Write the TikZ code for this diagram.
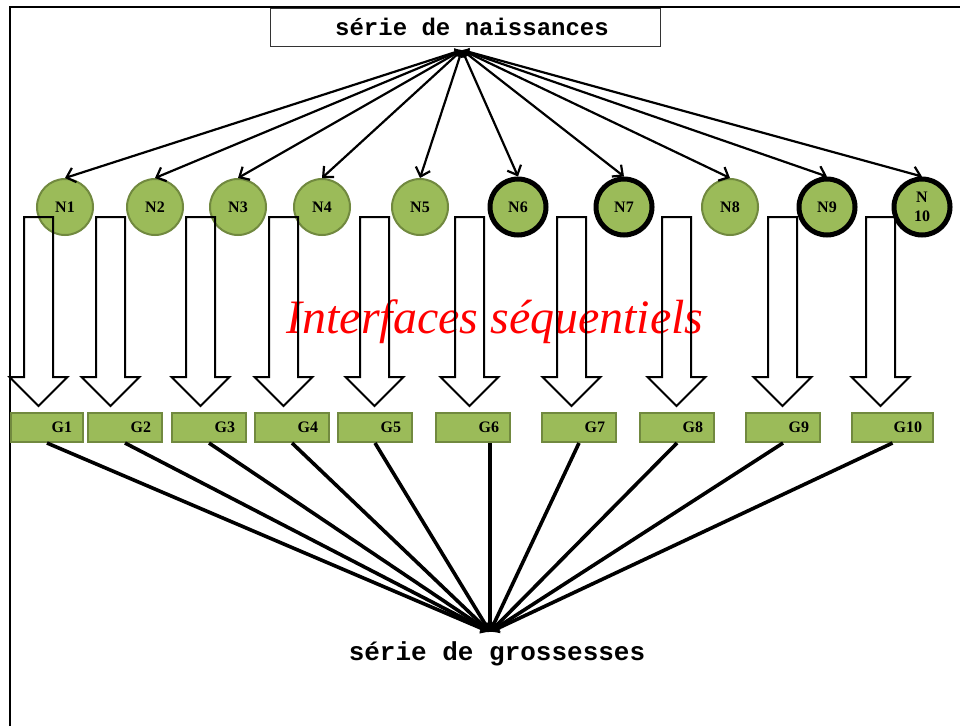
\documentclass[tikz,border=0pt]{standalone}
\usepackage{fontspec}
\setmainfont{Liberation Serif}
\newfontfamily\monob{Liberation Mono}[BoldFont=* Bold]
\usetikzlibrary{arrows.meta}
\definecolor{ngreen}{HTML}{9BBB59}
\definecolor{nborder}{HTML}{71893F}
\tikzset{
  x=1pt, y=-1pt,
  ncirc/.style={circle, minimum size=56pt, inner sep=0pt, fill=ngreen, draw=nborder, line width=2pt,
    font=\fontsize{16}{18}\selectfont\bfseries, align=center},
  nthick/.style={ncirc, draw=black, line width=5pt},
  gbox/.style={rectangle, minimum height=29pt, inner xsep=0pt, inner ysep=0pt, fill=ngreen, draw=nborder,
    line width=2pt, font=\fontsize{16}{16}\selectfont\bfseries, align=right},
  toparrow/.style={line width=2.2pt, {Latex[length=7pt,width=9pt]}-{Straight Barb[length=8pt,width=15pt]}},
  botarrow/.style={line width=3.6pt, -{Latex[length=9pt,width=12pt]}},
  blockarrow/.style={draw=black, line width=2pt, line join=miter},
  frameline/.style={line width=2.5pt}
}
\begin{document}
\begin{tikzpicture}
\useasboundingbox (0,0) rectangle (960,726);
\fill[white] (0,0) rectangle (960,726);
% frame
\draw[frameline] (10,726) -- (10,7) -- (960,7);
% top label
\node[draw=black!80, line width=1pt, minimum width=390pt, minimum height=38pt, inner sep=0pt,
  font=\monob\bfseries\fontsize{24}{24}\selectfont] (top) at (465,27) {\hspace*{14pt}série de naissances};
\coordinate (tp) at (462,50);
% circles
\node[ncirc]  (n1)  at (65,207)  {N1};
\node[ncirc]  (n2)  at (155,207) {N2};
\node[ncirc]  (n3)  at (238,207) {N3};
\node[ncirc]  (n4)  at (322,207) {N4};
\node[ncirc]  (n5)  at (420,207) {N5};
\node[nthick] (n6)  at (518,207) {N6};
\node[nthick] (n7)  at (624,207) {N7};
\node[ncirc]  (n8)  at (730,207) {N8};
\node[nthick] (n9)  at (827,207) {N9};
\node[nthick] (n10) at (922,207) {N\\[1pt]10};
\foreach \n in {n1,n2,n3,n4,n5,n6,n7,n8,n9,n10}
  \draw[toparrow] (tp) -- (\n.north);
% G boxes
\node[gbox, minimum width=72pt, text width=50pt] (g1)  at (47,427.5)  {G1};
\node[gbox, minimum width=74pt, text width=52pt] (g2)  at (125,427.5) {G2};
\node[gbox, minimum width=74pt, text width=52pt] (g3)  at (209,427.5) {G3};
\node[gbox, minimum width=74pt, text width=52pt] (g4)  at (292,427.5) {G4};
\node[gbox, minimum width=74pt, text width=52pt] (g5)  at (375,427.5) {G5};
\node[gbox, minimum width=74pt, text width=52pt] (g6)  at (473,427.5) {G6};
\node[gbox, minimum width=74pt, text width=52pt] (g7)  at (579,427.5) {G7};
\node[gbox, minimum width=74pt, text width=52pt] (g8)  at (677,427.5) {G8};
\node[gbox, minimum width=74pt, text width=52pt] (g9)  at (783,427.5) {G9};
\node[gbox, minimum width=81pt, text width=59pt] (g10) at (892.5,427.5) {G10};
% bottom label
\node[font=\monob\bfseries\fontsize{26}{26}\selectfont] (bot) at (497,654) {série de grossesses};
\coordinate (bp) at (490,632);
\foreach \g in {g1,g2,g3,g4,g5,g7,g8,g9,g10}
  \draw[botarrow] (\g.south) -- (bp);
\draw[botarrow] (g6.south -| bp) -- (bp);
% center text
\node[text=red, font=\itshape\fontsize{48}{48}\selectfont] (itf) at (495,322) {Interfaces séquentiels};
% block arrows
\foreach \c in {38.5,110.5,200.5,283.5,374.5,469.5,571.5,676.5,782.5,880.5}
  \draw[blockarrow] (\c-14.5,217) -- (\c+14.5,217) -- (\c+14.5,377) -- (\c+29,377) -- (\c,406)
     -- (\c-29,377) -- (\c-14.5,377) -- cycle;
\end{tikzpicture}
\end{document}
